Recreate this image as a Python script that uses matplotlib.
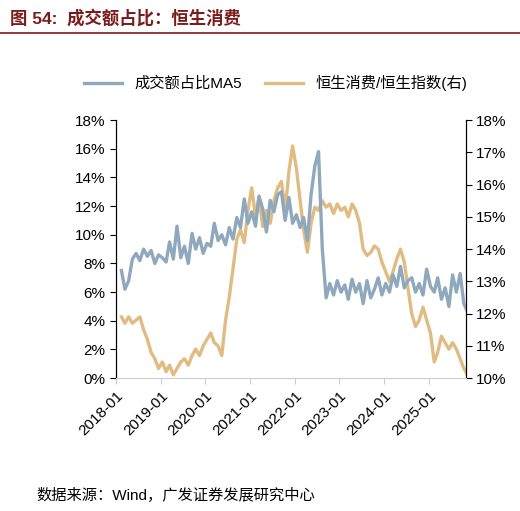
import numpy as np
import pandas as pd
import matplotlib
matplotlib.use('Agg')
import matplotlib.pyplot as plt
import matplotlib.dates as mdates

plt.rcParams['font.family'] = ['Liberation Sans', 'Noto Sans CJK SC', 'DejaVu Sans']

dates = pd.date_range('2018-01-15', periods=94, freq='MS') + pd.Timedelta(days=14)

# 成交额占比MA5 (%)
turnover = [7.5, 6.2, 6.8, 8.3, 8.7, 8.2, 9.0, 8.5, 8.9, 8.0, 8.6, 8.4,
            8.1, 9.5, 8.3, 10.6, 8.4, 9.2, 8.0, 10.1, 9.0, 9.8, 8.7, 9.4,
            9.2, 10.8, 9.6, 10.0, 9.3, 10.5, 9.7, 11.2, 10.5, 12.5, 10.8, 11.6,
            10.6, 12.7, 11.8, 10.2, 12.4, 11.6, 12.8, 13.0, 11.0, 12.6, 10.8, 11.4,
            10.5, 11.2, 9.6, 12.8, 14.8, 15.8, 9.0, 5.6, 6.6, 5.8, 6.8, 6.0,
            6.5, 5.5, 6.9, 6.0, 6.6, 5.2, 6.8, 5.6, 6.2, 7.0, 5.8, 6.6,
            6.0, 7.2, 6.4, 7.8, 6.3, 6.8, 7.0, 6.0, 6.6, 5.8, 7.6, 6.4,
            6.0, 7.0, 5.5, 6.3, 5.0, 7.2, 6.0, 7.3, 5.2, 4.6]

# 恒生消费/恒生指数 (%)
ratio = [11.9, 11.7, 11.9, 11.7, 11.8, 11.9, 11.5, 11.2, 10.8, 10.6, 10.3, 10.5,
         10.2, 10.4, 10.1, 10.3, 10.5, 10.6, 10.4, 10.7, 10.9, 10.7, 11.0, 11.2,
         11.4, 11.1, 11.0, 10.7, 11.8, 12.5, 13.4, 14.3, 14.6, 14.2, 15.2, 15.9,
         15.0, 15.6, 14.7, 15.2, 14.8, 15.5, 15.9, 16.1, 15.2, 16.4, 17.2, 16.5,
         15.5, 14.6, 13.9, 14.8, 15.3, 15.2, 15.5, 15.3, 15.4, 15.1, 15.4, 15.2,
         15.3, 15.0, 15.4, 15.2, 14.8, 14.0, 13.8, 13.9, 14.1, 14.0, 13.6, 13.3,
         13.0, 13.3, 13.7, 14.0, 13.6, 12.8, 12.0, 11.6, 11.8, 12.2, 11.8, 11.4,
         10.5, 10.8, 11.3, 11.1, 10.9, 11.1, 10.9, 10.6, 10.3, 10.1]

blue = '#8fa8be'
gold = '#e1bc82'

fig = plt.figure(figsize=(5.2, 5.11), dpi=100)
ax = fig.add_axes([0.223, 0.26, 0.673, 0.505])
ax2 = ax.twinx()

l1, = ax.plot(dates, turnover, color=blue, lw=2.4, label='成交额占比MA5')
l2, = ax2.plot(dates, ratio, color=gold, lw=2.4, label='恒生消费/恒生指数(右)')
ax.set_zorder(ax2.get_zorder() + 1)
ax.patch.set_visible(False)

ax.set_ylim(0, 18)
ax.set_yticks(range(0, 19, 2))
ax.set_yticklabels([f'{v}%' for v in range(0, 19, 2)])
ax2.set_ylim(10, 18)
ax2.set_yticks(range(10, 19))
ax2.set_yticklabels([f'{v}%' for v in range(10, 19)])
ax.set_xlim(pd.Timestamp('2018-01-01'), pd.Timestamp('2025-11-01'))
ax.xaxis.set_major_locator(mdates.YearLocator(month=1, day=1))
ax.xaxis.set_major_formatter(mdates.DateFormatter('%Y-%m'))
plt.setp(ax.get_xticklabels(), rotation=45, ha='right', rotation_mode='anchor')

for a in (ax, ax2):
    a.tick_params(labelsize=11, direction='out', length=4)
    a.spines['top'].set_visible(False)
ax.spines['bottom'].set_color('#cccccc')
ax2.spines['bottom'].set_visible(False)
ax.tick_params(axis='x', colors='#cccccc', labelcolor='black')

fig.legend(handles=[l1, l2], loc='upper center', bbox_to_anchor=(0.53, 0.88),
           ncol=2, frameon=False, fontsize=11, handlelength=2.5, columnspacing=1.5)

fig.text(0.02, 0.965, '图 54:  成交额占比：恒生消费', fontsize=12.5, fontweight='bold',
         color='#7a1c1c', va='center')
fig.add_artist(plt.Line2D([0.0, 1.0], [0.935, 0.935], color='#7a1c1c', lw=1.2))
fig.text(0.07, 0.03, '数据来源：Wind，广发证券发展研究中心', fontsize=11, va='center')

fig.savefig('out.png', dpi=100)
